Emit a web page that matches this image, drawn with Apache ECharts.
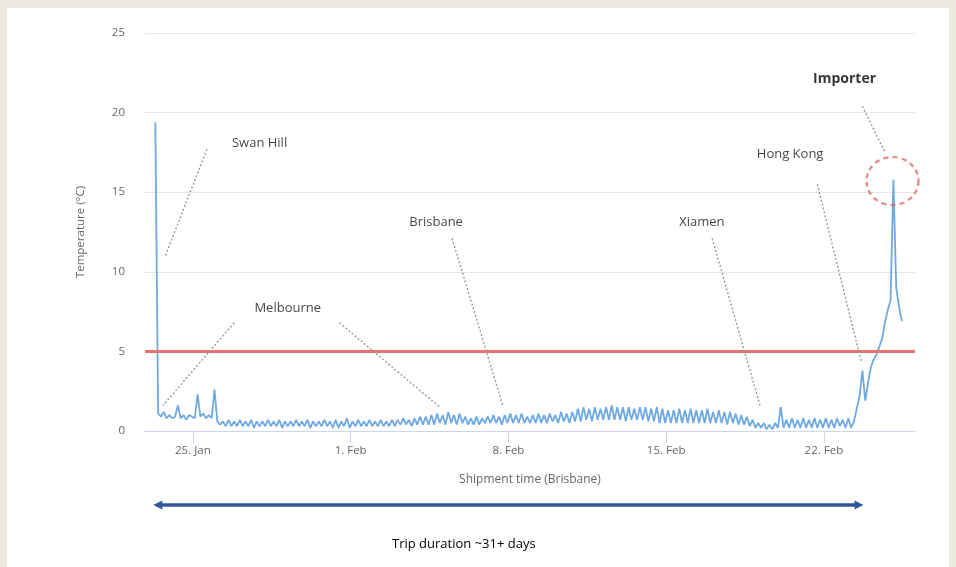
<!DOCTYPE html>
<html>
<head>
<meta charset="utf-8">
<script src="https://cdn.jsdelivr.net/npm/echarts@6/dist/echarts.min.js"></script>
<style>
html,body{margin:0;padding:0;background:#edebe0;width:956px;height:567px;overflow:hidden;}
#panel{position:absolute;left:7px;top:8px;width:942px;height:559px;background:#ffffff;}
#chart{position:absolute;left:0;top:0;width:956px;height:567px;}
</style>
</head>
<body>
<div id="panel"></div>
<div id="chart"></div>
<script>
// ---- data (3-hourly readings starting 23 Jan 08:00, Brisbane time) ----
const startTime = Date.UTC(2019, 0, 23, 8);
const stepHours = 3;
const temperatures = [
  19.4, 1.1, 0.9, 1.2, 0.8, 1.0, 0.8, 0.9,   // 23 Jan
  1.6, 0.8, 1.0, 0.7, 1.0, 0.9, 0.8, 2.3,    // 24 Jan
  0.9, 1.1, 0.8, 1.0, 0.8, 2.6, 0.6, 0.4,    // 25 Jan
  0.6, 0.3, 0.7, 0.3, 0.6, 0.3, 0.7, 0.3,    // 26 Jan
  0.6, 0.3, 0.7, 0.2, 0.6, 0.3, 0.6, 0.3,    // 27 Jan
  0.7, 0.3, 0.6, 0.3, 0.7, 0.2, 0.6, 0.3,    // 28 Jan
  0.6, 0.3, 0.7, 0.3, 0.6, 0.3, 0.7, 0.2,    // 29 Jan
  0.6, 0.3, 0.6, 0.3, 0.7, 0.3, 0.6, 0.2,    // 30 Jan
  0.7, 0.2, 0.6, 0.3, 0.8, 0.2, 0.6, 0.3,    // 31 Jan
  0.7, 0.3, 0.6, 0.3, 0.7, 0.3, 0.6, 0.3,    // 1 Feb
  0.7, 0.3, 0.6, 0.3, 0.7, 0.3, 0.7, 0.4,    // 2 Feb
  0.8, 0.4, 0.7, 0.3, 0.8, 0.4, 0.9, 0.4,    // 3 Feb
  0.9, 0.4, 1.0, 0.4, 1.1, 0.5, 1.0, 0.4,    // 4 Feb
  1.2, 0.5, 1.0, 0.4, 1.1, 0.5, 0.9, 0.4,    // 5 Feb
  0.8, 0.4, 0.9, 0.4, 0.8, 0.5, 0.9, 0.5,    // 6 Feb
  1.0, 0.5, 0.9, 0.4, 1.0, 0.5, 1.1, 0.5,    // 7 Feb
  1.0, 0.5, 1.1, 0.5, 0.9, 0.5, 1.0, 0.5,    // 8 Feb
  1.1, 0.5, 1.0, 0.5, 1.1, 0.6, 1.0, 0.5,    // 9 Feb
  1.2, 0.6, 1.1, 0.5, 1.2, 0.6, 1.4, 0.6,    // 10 Feb
  1.5, 0.7, 1.4, 0.6, 1.5, 0.7, 1.4, 0.7,    // 11 Feb
  1.5, 0.7, 1.6, 0.7, 1.5, 0.7, 1.5, 0.6,    // 12 Feb
  1.5, 0.7, 1.4, 0.7, 1.5, 0.7, 1.5, 0.6,    // 13 Feb
  1.4, 0.6, 1.5, 0.5, 1.4, 0.5, 1.3, 0.5,    // 14 Feb
  1.3, 0.5, 1.4, 0.5, 1.3, 0.5, 1.4, 0.5,    // 15 Feb
  1.3, 0.5, 1.3, 0.5, 1.4, 0.5, 1.2, 0.5,    // 16 Feb
  1.3, 0.5, 1.2, 0.4, 1.2, 0.5, 1.1, 0.4,    // 17 Feb
  1.0, 0.4, 0.9, 0.3, 0.7, 0.2, 0.5, 0.2,    // 18 Feb
  0.5, 0.1, 0.4, 0.1, 0.5, 0.2, 1.5, 0.2,    // 19 Feb
  0.7, 0.2, 0.8, 0.2, 0.7, 0.2, 0.8, 0.2,    // 20 Feb
  0.7, 0.2, 0.8, 0.2, 0.7, 0.2, 0.8, 0.2,    // 21 Feb
  0.7, 0.2, 0.8, 0.3, 0.7, 0.2, 0.8, 0.2,    // 22 Feb
  0.6, 1.4, 2.2, 3.8, 1.9, 3.0, 4.0, 4.5,    // 23 Feb
  4.8, 5.3, 5.8, 6.8, 7.6, 8.2, 15.8, 9.0,   // 24 Feb
  7.8, 6.9                                   // 25 Feb
];
const limitTemp = 5;
const yTicks = [0, 5, 10, 15, 20, 25];
const xTickDates = [[0, 25], [1, 1], [1, 8], [1, 15], [1, 22]]; // [month, day]
const monthNames = ['Jan', 'Feb'];

// annotations: [label, textTime, textValue]
const labels = [
  ['Swan Hill', Date.UTC(2019, 0, 27, 23), 18.1],
  ['Melbourne', Date.UTC(2019, 0, 29, 5), 7.7],
  ['Brisbane', Date.UTC(2019, 1, 4, 19), 13.1],
  ['Xiamen', Date.UTC(2019, 1, 16, 14), 13.1],
  ['Hong Kong', Date.UTC(2019, 1, 20, 12), 17.4]
];
const importerLabel = ['Importer', Date.UTC(2019, 1, 22, 22), 22.1];
// leader lines: [[fromTime, fromValue], [toTime, toValue]]
const leaders = [
  [[Date.UTC(2019, 0, 25, 15), 17.7], [Date.UTC(2019, 0, 23, 18), 10.9]],
  [[Date.UTC(2019, 0, 26, 20), 6.8], [Date.UTC(2019, 0, 23, 16), 1.6]],
  [[Date.UTC(2019, 0, 31, 12), 6.8], [Date.UTC(2019, 1, 4, 23), 1.5]],
  [[Date.UTC(2019, 1, 5, 12), 12.1], [Date.UTC(2019, 1, 7, 18), 1.6]],
  [[Date.UTC(2019, 1, 17, 1), 12.1], [Date.UTC(2019, 1, 19, 4), 1.6]],
  [[Date.UTC(2019, 1, 21, 17), 15.5], [Date.UTC(2019, 1, 23, 16), 4.3]],
  [[Date.UTC(2019, 1, 23, 17), 20.4], [Date.UTC(2019, 1, 24, 17), 17.5]]
];
const peakCircle = [Date.UTC(2019, 1, 25, 1), 15.7];
const tripStart = Date.UTC(2019, 0, 23, 8);
const tripEnd = Date.UTC(2019, 1, 23, 16);
const tripText = 'Trip duration ~31+ days';

// ---- build ----
const seriesData = temperatures.map((v, i) => [startTime + i * stepHours * 3600000, v]);
const xTicks = xTickDates.map(d => Date.UTC(2019, d[0], d[1]));

const chart = echarts.init(document.getElementById('chart'), null, {renderer: 'canvas'});
const FONT = '"Open Sans", "Noto Sans", sans-serif';

chart.setOption({
  animation: false,
  backgroundColor: 'transparent',
  grid: {left: 145, right: 41, top: 33, bottom: 136},
  xAxis: {
    type: 'value',
    min: Date.UTC(2019, 0, 22, 21),
    max: Date.UTC(2019, 1, 26, 1),
    name: 'Shipment time (Brisbane)',
    nameLocation: 'middle',
    nameGap: 43,
    nameTextStyle: {color: '#666', fontSize: 12, fontFamily: FONT},
    axisLine: {show: true, lineStyle: {color: '#ccd6eb', width: 1}},
    axisTick: {show: true, length: 11, customValues: xTicks, lineStyle: {color: '#ccd6eb'}},
    axisLabel: {
      customValues: xTicks,
      color: '#666', fontSize: 11.5, fontFamily: FONT, margin: 14,
      formatter: v => { const d = new Date(v); return d.getUTCDate() + '. ' + monthNames[d.getUTCMonth()]; }
    },
    splitLine: {show: false}
  },
  yAxis: {
    type: 'value',
    min: 0, max: 25, interval: 5,
    name: 'Temperature (°C)',
    nameLocation: 'middle',
    nameGap: 58,
    nameTextStyle: {color: '#666', fontSize: 11.5, fontFamily: FONT},
    axisLine: {show: false},
    axisTick: {show: false},
    axisLabel: {color: '#666', fontSize: 11.5, fontFamily: FONT, margin: 20},
    splitLine: {lineStyle: {color: '#e6e6e6', width: 1}}
  },
  series: [
    {
      type: 'line',
      data: seriesData,
      showSymbol: false,
      symbol: 'none',
      lineStyle: {color: '#6fa9e2', width: 1.8},
      z: 3,
      markLine: {
        silent: true,
        symbol: 'none',
        label: {show: false},
        lineStyle: {color: '#e8736e', width: 3, type: 'solid'},
        data: [{yAxis: limitTemp}]
      }
    },
    {
      type: 'line',
      data: [],
      markLine: {
        silent: true,
        symbol: 'none',
        label: {show: false},
        lineStyle: {color: '#9a9a9a', width: 1.4, type: [2, 2]},
        data: leaders.map(l => [{coord: l[0]}, {coord: l[1]}])
      }
    },
    {
      type: 'scatter',
      symbolSize: 1,
      itemStyle: {color: 'rgba(0,0,0,0)'},
      silent: true,
      data: labels.map(l => ({value: [l[1], l[2]], name: l[0]})),
      label: {
        show: true, position: 'inside', formatter: p => p.name,
        color: '#141414', fontSize: 13, fontFamily: FONT
      },
      z: 5
    },
    {
      type: 'scatter',
      symbolSize: 1,
      itemStyle: {color: 'rgba(0,0,0,0)'},
      silent: true,
      data: [{value: [importerLabel[1], importerLabel[2]], name: importerLabel[0]}],
      label: {
        show: true, position: 'inside', formatter: p => p.name,
        color: '#000', fontSize: 14, fontWeight: 'bold', fontFamily: FONT
      },
      z: 5
    },
    {
      type: 'scatter',
      symbol: 'circle',
      symbolSize: [52, 48],
      silent: true,
      itemStyle: {color: 'rgba(0,0,0,0)', borderColor: '#e06a66', borderWidth: 2.2, borderType: [5, 4]},
      data: [peakCircle],
      z: 6
    }
  ]
});

const x1 = chart.convertToPixel({xAxisIndex: 0}, tripStart);
const x2 = chart.convertToPixel({xAxisIndex: 0}, tripEnd);
const ay = 505;
chart.setOption({
  graphic: [
    {type: 'line', shape: {x1: x1 + 4, y1: ay, x2: x2 - 4, y2: ay}, style: {stroke: '#2f569c', lineWidth: 3.5}},
    {type: 'polygon', shape: {points: [[x1 - 2, ay], [x1 + 7, ay - 4.5], [x1 + 7, ay + 4.5]]}, style: {fill: '#2f569c'}},
    {type: 'polygon', shape: {points: [[x2 + 2, ay], [x2 - 7, ay - 4.5], [x2 - 7, ay + 4.5]]}, style: {fill: '#2f569c'}},
    {type: 'text', left: 392, top: 538, style: {text: tripText, fill: '#000', fontSize: 13, fontFamily: FONT}}
  ]
});
</script>
</body>
</html>
